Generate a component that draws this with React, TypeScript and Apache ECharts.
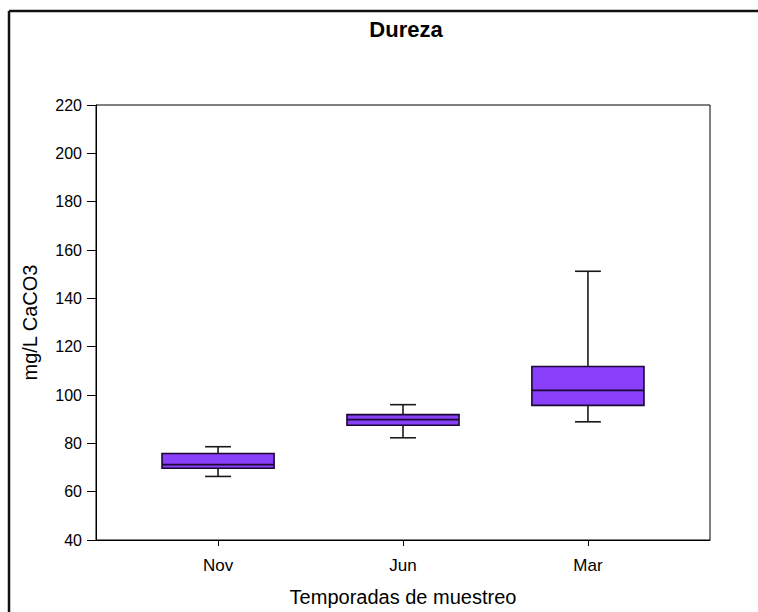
import React, { useEffect, useRef } from "react";
import * as echarts from "echarts";

const categories = ["Nov", "Jun", "Mar"];
const positions = [1, 2, 3];
const whiskerLow = [66.3, 82.3, 88.9];
const q1 = [69.7, 87.5, 95.7];
const median = [71.2, 89.8, 101.9];
const q3 = [75.8, 91.9, 111.8];
const whiskerHigh = [78.6, 96.0, 151.2];

const yMin = 40;
const yMax = 220;
const yStep = 20;

export default function App() {
  const ref = useRef<HTMLDivElement>(null);
  useEffect(() => {
    if (!ref.current) return;
    const chart = echarts.init(ref.current, null, { renderer: "svg" });
    const data = positions.map((p, i) => [p, whiskerLow[i], q1[i], median[i], q3[i], whiskerHigh[i]]);
    const font = "Arial, 'Liberation Sans', sans-serif";
    chart.setOption({
      animation: false,
      backgroundColor: "#fff",
      title: {
        text: "Dureza",
        left: 401,
        top: 13,
        textAlign: "center",
        textStyle: { fontFamily: font, fontSize: 22, fontWeight: "bold", color: "#000" },
      },
      graphic: [
        { type: "line", shape: { x1: 9, y1: 11, x2: 758, y2: 11 }, style: { stroke: "#111", lineWidth: 2.5 } },
        { type: "line", shape: { x1: 9, y1: 11, x2: 9, y2: 612 }, style: { stroke: "#111", lineWidth: 2.5 } },
      ],
      grid: {
        left: 96,
        right: 48,
        top: 105,
        bottom: 69,
        show: true,
        borderColor: "#000",
        borderWidth: 1,
        backgroundColor: "transparent",
      },
      xAxis: {
        type: "value",
        min: 0.34,
        max: 3.66,
        name: "Temporadas de muestreo",
        nameLocation: "middle",
        nameGap: 47,
        nameTextStyle: { fontFamily: font, fontSize: 20, color: "#000" },
        axisLine: { show: true, lineStyle: { color: "#000", width: 1 } },
        axisTick: { show: true, customValues: positions, length: 6, lineStyle: { color: "#000" } },
        axisLabel: {
          customValues: positions,
          formatter: (v: number) => categories[Math.round(v) - 1] ?? "",
          fontFamily: font,
          fontSize: 17,
          color: "#000",
          margin: 17,
        },
        splitLine: { show: false },
      },
      yAxis: {
        type: "value",
        min: yMin,
        max: yMax,
        interval: yStep,
        name: "mg/L CaCO3",
        nameLocation: "middle",
        nameGap: 56,
        nameTextStyle: { fontFamily: font, fontSize: 20, color: "#000" },
        axisLine: { show: true, lineStyle: { color: "#000", width: 1 } },
        axisTick: { show: true, length: 9, lineStyle: { color: "#000" } },
        axisLabel: { fontFamily: font, fontSize: 16, color: "#000", margin: 14 },
        splitLine: { show: false },
      },
      series: [
        {
          type: "custom",
          data,
          renderItem: (params: any, api: any) => {
            const x = api.value(0);
            const pLow = api.coord([x, api.value(1)]);
            const pQ1 = api.coord([x, api.value(2)]);
            const pMed = api.coord([x, api.value(3)]);
            const pQ3 = api.coord([x, api.value(4)]);
            const pHigh = api.coord([x, api.value(5)]);
            const half = api.size([0.303, 0])[0];
            const cap = api.size([0.07, 0])[0];
            const cx = pMed[0];
            const lineStyle = { stroke: "#1a1a1a", lineWidth: 1.6 };
            return {
              type: "group",
              children: [
                { type: "line", shape: { x1: cx, y1: pQ3[1], x2: cx, y2: pHigh[1] }, style: lineStyle },
                { type: "line", shape: { x1: cx, y1: pQ1[1], x2: cx, y2: pLow[1] }, style: lineStyle },
                { type: "line", shape: { x1: cx - cap, y1: pHigh[1], x2: cx + cap, y2: pHigh[1] }, style: lineStyle },
                { type: "line", shape: { x1: cx - cap, y1: pLow[1], x2: cx + cap, y2: pLow[1] }, style: lineStyle },
                {
                  type: "rect",
                  shape: { x: cx - half, y: pQ3[1], width: half * 2, height: pQ1[1] - pQ3[1] },
                  style: { fill: "#8A3FFB", stroke: "#1A0833", lineWidth: 1.6 },
                },
                { type: "line", shape: { x1: cx - half, y1: pMed[1], x2: cx + half, y2: pMed[1] }, style: { stroke: "#1A0833", lineWidth: 1.6 } },
              ],
            };
          },
        },
      ],
    });
    return () => chart.dispose();
  }, []);
  return <div ref={ref} style={{ position: "absolute", left: 0, top: 0, width: 758, height: 612 }} />;
}
